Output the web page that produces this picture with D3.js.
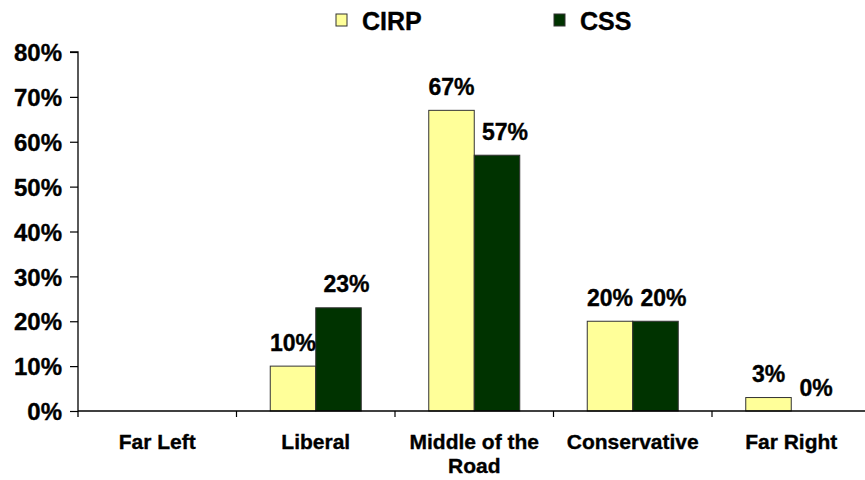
<!DOCTYPE html>
<html>
<head>
<meta charset="utf-8">
<script src="https://cdn.jsdelivr.net/npm/d3@7"></script>
<style>
  html, body { margin: 0; padding: 0; background: #fff; }
  svg { display: block; }
  text { font-family: "Liberation Sans", Arial, sans-serif; font-weight: bold; fill: #000; stroke: #000; stroke-width: 0.35px; }
</style>
</head>
<body>
<svg id="chart" width="865" height="480"></svg>
<script>
const categories = ["Far Left", "Liberal", "Middle of the Road", "Conservative", "Far Right"];
const seriesNames = ["CIRP", "CSS"];
const cirpValues = [null, 0.10, 0.67, 0.20, 0.03];
const cssValues = [null, 0.23, 0.57, 0.20, 0.00];
const yTicks = [0, 0.1, 0.2, 0.3, 0.4, 0.5, 0.6, 0.7, 0.8];
const seriesColors = ["#FFFF99", "#003300"];

const svg = d3.select("#chart");
const x0 = 78, x1end = 870.5, yBase = 411, yTop = 52;

const x = d3.scaleBand().domain(categories).range([x0, x1end]).padding(0);
const groupW = 91;
const xs = d3.scaleBand().domain(seriesNames).range([0, groupW]).padding(0);
const y = d3.scaleLinear().domain([0, 0.8]).range([yBase, yTop]);
const fmt = d3.format(".0%");

// Y axis
const yAxis = d3.axisLeft(y).tickValues(yTicks).tickFormat(fmt).tickSize(8).tickPadding(8);
const gy = svg.append("g").attr("transform", `translate(${x0},0)`).call(yAxis);
gy.select(".domain").attr("stroke", "#000").attr("stroke-width", 1.3).attr("d", `M-8,${yTop}H0V${yBase + 6}`);
gy.selectAll(".tick line").attr("stroke", "#000").attr("stroke-width", 1.2);
gy.selectAll(".tick text").style("font-size", "24px").style("font-family", "'Liberation Sans', Arial, sans-serif").style("font-weight", "bold").attr("dy", "0.36em");

// Data
const data = categories.map((c, i) => ({ cat: c, vals: [
  { s: seriesNames[0], v: cirpValues[i], k: 0 },
  { s: seriesNames[1], v: cssValues[i], k: 1 }
]}));

const groups = svg.append("g").selectAll("g").data(data).join("g")
  .attr("transform", d => `translate(${x(d.cat) + (x.bandwidth() - groupW) / 2},0)`);

groups.selectAll("rect").data(d => d.vals.filter(e => e.v !== null && e.v > 0)).join("rect")
  .attr("x", e => xs(e.s))
  .attr("y", e => y(e.v))
  .attr("width", xs.bandwidth())
  .attr("height", e => yBase - y(e.v))
  .attr("fill", e => seriesColors[e.k])
  .attr("stroke", "#333")
  .attr("stroke-width", 1);

groups.selectAll("text.lbl").data(d => d.vals.filter(e => e.v !== null)).join("text")
  .attr("class", "lbl")
  .attr("x", e => xs(e.s) + xs.bandwidth() / 2 + (e.k === 1 ? (e.v > 0 ? 8 : 2) : 0))
  .attr("y", e => y(e.v) - 15.5)
  .attr("text-anchor", "middle")
  .style("font-size", "23px")
  .text(e => fmt(e.v));

// X axis
const gx = svg.append("g");
gx.append("line").attr("x1", x0).attr("x2", x1end).attr("y1", yBase).attr("y2", yBase)
  .attr("stroke", "#000").attr("stroke-width", 1.3);
gx.selectAll("line.tk").data(categories.slice(1)).join("line").attr("class", "tk")
  .attr("x1", d => x(d)).attr("x2", d => x(d)).attr("y1", yBase).attr("y2", yBase + 6)
  .attr("stroke", "#000").attr("stroke-width", 1.2);

const catLines = { "Middle of the Road": ["Middle of the", "Road"] };
const ct = gx.selectAll("text.cat").data(categories).join("text").attr("class", "cat")
  .attr("text-anchor", "middle")
  .style("font-size", "21px");
ct.each(function(d) {
  const lines = catLines[d] || [d];
  const t = d3.select(this);
  lines.forEach((ln, i) => {
    t.append("tspan").attr("x", x(d) + x.bandwidth() / 2).attr("y", 449 + i * 23.5).text(ln);
  });
});

// Legend
const legendX = [336, 554];
const leg = svg.append("g").selectAll("g").data(seriesNames).join("g")
  .attr("transform", (d, i) => `translate(${legendX[i]},0)`);
leg.append("rect").attr("x", 0).attr("y", 14).attr("width", 11).attr("height", 12)
  .attr("fill", (d, i) => seriesColors[i]).attr("stroke", "#333").attr("stroke-width", 1);
leg.append("text").attr("x", 26).attr("y", 29.5)
  .style("font-size", "25px").text(d => d);
</script>
</body>
</html>
